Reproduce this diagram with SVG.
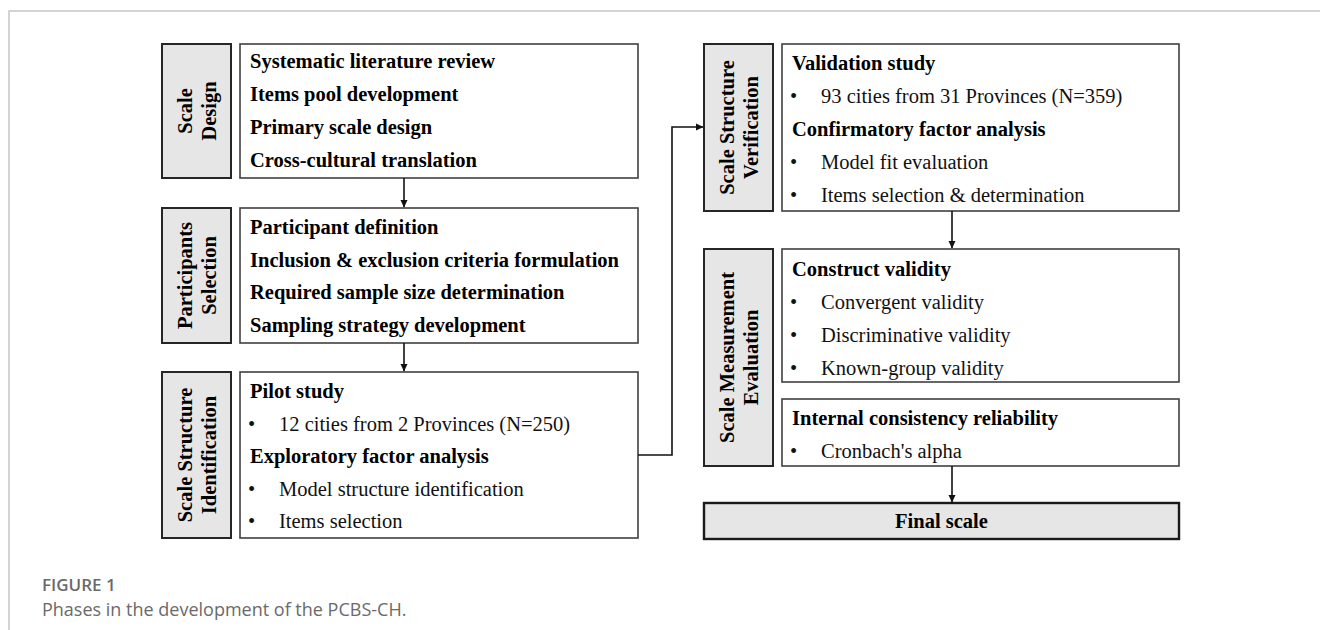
<svg xmlns="http://www.w3.org/2000/svg" width="1320" height="630" viewBox="0 0 1320 630">
<defs>
<style>
.side{fill:#e6e6e6;stroke:#262626;stroke-width:2}
.main{fill:#fff;stroke:#404040;stroke-width:1.6}
.b{font-family:"Liberation Serif","Times New Roman",serif;font-weight:bold;font-size:20.5px;fill:#000}
.r{font-family:"Liberation Serif","Times New Roman",serif;font-size:20.5px;fill:#111}
.lab{font-family:"Liberation Serif","Times New Roman",serif;font-weight:bold;font-size:20.5px;fill:#000;text-anchor:middle}
.con{fill:none;stroke:#111;stroke-width:1.6}
.cap1{font-family:"Open Sans","Noto Sans",sans-serif;font-weight:600;font-size:17px;fill:#6a6a6a}
.cap2{font-family:"Open Sans","Noto Sans",sans-serif;font-size:18px;fill:#6a6a6a}
</style>
<marker id="ah" markerWidth="8" markerHeight="8" refX="7" refY="4" orient="auto" markerUnits="userSpaceOnUse">
<path d="M0,0.5 L7.5,4 L0,7.5 Z" fill="#111"/>
</marker>
</defs>
<rect x="0" y="0" width="1320" height="630" fill="#fff"/>
<path d="M9,630 L9,11 L1320,11" fill="none" stroke="#d4d4d4" stroke-width="2"/>

<g id="scale-design">
<rect class="side" x="162" y="44" width="69" height="134"/>
<text class="lab" transform="translate(196.5,111) rotate(-90)"><tspan x="0" y="-4.5">Scale</tspan><tspan x="0" y="19.5">Design</tspan></text>
<rect class="main" x="240" y="44" width="398" height="134"/>
<text class="b" x="250" y="68">Systematic literature review</text>
<text class="b" x="250" y="101">Items pool development</text>
<text class="b" x="250" y="134">Primary scale design</text>
<text class="b" x="250" y="167">Cross-cultural translation</text>
</g>

<g id="participants-selection">
<rect class="side" x="162" y="208" width="69" height="135"/>
<text class="lab" transform="translate(196.5,275.5) rotate(-90)"><tspan x="0" y="-5">Participants</tspan><tspan x="0" y="19.5">Selection</tspan></text>
<rect class="main" x="240" y="208" width="398" height="135"/>
<text class="b" x="250" y="234">Participant definition</text>
<text class="b" x="250" y="267">Inclusion &amp; exclusion criteria formulation</text>
<text class="b" x="250" y="299">Required sample size determination</text>
<text class="b" x="250" y="332">Sampling strategy development</text>
</g>

<g id="scale-structure-identification">
<rect class="side" x="162" y="372" width="69" height="166"/>
<text class="lab" transform="translate(196.5,455) rotate(-90)"><tspan x="0" y="-4.5">Scale Structure</tspan><tspan x="0" y="19.5">Identification</tspan></text>
<rect class="main" x="240" y="372" width="398" height="166"/>
<text class="b" x="250" y="398">Pilot study</text>
<text class="r" x="248" y="431">•</text><text class="r" x="279" y="431">12 cities from 2 Provinces (N=250)</text>
<text class="b" x="250" y="463">Exploratory factor analysis</text>
<text class="r" x="248" y="496">•</text><text class="r" x="279" y="496">Model structure identification</text>
<text class="r" x="248" y="528">•</text><text class="r" x="279" y="528">Items selection</text>
</g>

<g id="scale-structure-verification">
<rect class="side" x="704" y="44" width="69" height="167"/>
<text class="lab" transform="translate(738.5,127.5) rotate(-90)"><tspan x="0" y="-4.5">Scale Structure</tspan><tspan x="0" y="19.5">Verification</tspan></text>
<rect class="main" x="782" y="44" width="397" height="167"/>
<text class="b" x="792" y="70">Validation study</text>
<text class="r" x="790" y="103">•</text><text class="r" x="821" y="103">93 cities from 31 Provinces (N=359)</text>
<text class="b" x="792" y="136">Confirmatory factor analysis</text>
<text class="r" x="790" y="169">•</text><text class="r" x="821" y="169">Model fit evaluation</text>
<text class="r" x="790" y="202">•</text><text class="r" x="821" y="202">Items selection &amp; determination</text>
</g>

<g id="scale-measurement-evaluation">
<rect class="side" x="704" y="249" width="69" height="217"/>
<text class="lab" transform="translate(738.5,357.5) rotate(-90)"><tspan x="0" y="-4.5">Scale Measurement</tspan><tspan x="0" y="19.5">Evaluation</tspan></text>
<rect class="main" x="782" y="249" width="397" height="133"/>
<text class="b" x="792" y="276">Construct validity</text>
<text class="r" x="790" y="309">•</text><text class="r" x="821" y="309">Convergent validity</text>
<text class="r" x="790" y="342">•</text><text class="r" x="821" y="342">Discriminative validity</text>
<text class="r" x="790" y="375">•</text><text class="r" x="821" y="375">Known-group validity</text>
<rect class="main" x="782" y="399" width="397" height="67"/>
<text class="b" x="792" y="425">Internal consistency reliability</text>
<text class="r" x="790" y="458">•</text><text class="r" x="821" y="458">Cronbach's alpha</text>
</g>

<g id="final-scale">
<rect x="704" y="503" width="475" height="36" fill="#e6e6e6" stroke="#1a1a1a" stroke-width="2.4"/>
<text class="lab" x="941.5" y="528">Final scale</text>
</g>

<g id="connectors">
<path class="con" d="M404,178 L404,207" marker-end="url(#ah)"/>
<path class="con" d="M404,343 L404,371" marker-end="url(#ah)"/>
<path class="con" d="M638,455 L672,455 L672,127 L703,127" marker-end="url(#ah)"/>
<path class="con" d="M952,211 L952,248" marker-end="url(#ah)"/>
<path class="con" d="M952,466 L952,502" marker-end="url(#ah)"/>
</g>

<g id="caption">
<text class="cap1" x="42" y="591">FIGURE 1</text>
<text class="cap2" x="42" y="616">Phases in the development of the PCBS-CH.</text>
</g>
</svg>
